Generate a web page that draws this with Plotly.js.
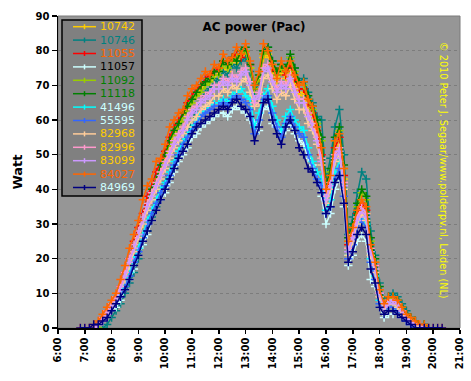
<!DOCTYPE html>
<html><head><meta charset="utf-8">
<script src="https://cdn.plot.ly/plotly-3.0.1.min.js"></script>
<style>html,body{margin:0;padding:0;background:#fff}#chart{width:471px;height:381px}</style>
</head><body><div id="chart"></div>
<script>
// time stamps (every 10 minutes)
const times = [
 "06:50","07:00","07:10","07:20","07:30","07:40","07:50","08:00","08:10","08:20",
 "08:30","08:40","08:50","09:00","09:10","09:20","09:30","09:40","09:50","10:00",
 "10:10","10:20","10:30","10:40","10:50","11:00","11:10","11:20","11:30","11:40",
 "11:50","12:00","12:10","12:20","12:30","12:40","12:50","13:00","13:10","13:20",
 "13:30","13:40","13:50","14:00","14:10","14:20","14:30","14:40","14:50","15:00",
 "15:10","15:20","15:30","15:40","15:50","16:00","16:10","16:20","16:30","16:40",
 "16:50","17:00","17:10","17:20","17:30","17:40","17:50","18:00","18:10","18:20",
 "18:30","18:40","18:50","19:00","19:10","19:20","19:30","19:40","19:50","20:00",
 "20:10","20:20"];

const s10742 = [
 0,0,0,0,1,2,4,6,8,11,
 15,19,23,27,31,35,39,43,46,49,
 53,56,58,61,63,65,67,69,70,71,
 72,74,75,74,77,76,78,79,75,68,
 71,78,79,74,71,74,72,75,71,67,
 68,63,61,56,49,37,42,51,53,43,
 23,27,31,35,33,22,17,10,6,8,
 8,7,5,3,2,1,1,0,0,0,
 0,0];
const s10746 = [
 0,0,0,0,0,0,1,3,5,7,
 10,13,16,20,24,28,32,35,39,42,
 44,46,50,53,56,60,63,66,68,69,
 71,72,74,73,76,75,77,78,74,68,
 71,80,81,77,73,76,74,78,75,71,
 72,68,65,61,60,43,49,58,63,50,
 27,32,39,45,43,28,21,13,8,9,
 10,9,7,5,3,2,1,1,0,0,
 0,0];
const s11055 = [
 0,0,0,0,1,3,5,7,9,12,
 16,20,25,29,33,38,41,45,48,51,
 55,58,60,62,65,67,69,70,72,73,
 74,75,77,76,78,79,78,80,76,69,
 72,79,80,75,73,75,73,76,72,69,
 69,65,62,57,50,39,43,52,55,44,
 24,28,33,36,34,23,18,10,6,8,
 8,7,5,4,2,2,1,0,0,0,
 0,0];
const s11057 = [
 0,0,0,0,1,2,3,5,6,8,
 11,14,17,21,24,27,31,34,37,39,
 42,45,48,50,52,55,56,58,59,60,
 61,62,62,61,63,64,63,62,60,59,
 57,63,64,59,58,56,57,59,56,54,
 53,49,47,43,38,30,33,40,43,35,
 18,21,25,27,25,14,12,6,3,4,
 4,4,3,2,1,0,0,0,0,0,
 0,0];
const s11092 = [
 0,0,0,0,0,2,3,5,7,10,
 14,18,22,26,30,35,38,42,45,48,
 52,55,58,60,63,65,67,68,70,71,
 73,73,76,75,77,78,79,80,75,69,
 72,79,80,76,73,75,74,78,74,70,
 70,66,63,59,54,40,45,54,57,46,
 25,29,35,39,37,25,19,11,7,8,
 9,8,6,4,2,2,1,0,0,0,
 0,0];
const s11118 = [
 0,0,0,0,1,2,4,6,8,11,
 15,19,24,28,32,36,40,43,47,50,
 54,57,59,62,64,66,68,70,71,72,
 74,74,77,76,78,77,80,81,76,70,
 73,80,81,77,74,76,75,79,75,71,
 71,67,64,60,55,41,46,55,58,47,
 26,30,36,40,38,26,20,12,7,9,
 9,8,6,4,3,2,1,1,0,0,
 0,0];
const s41496 = [
 0,0,0,0,1,2,4,6,8,10,
 13,16,20,23,27,31,34,37,40,42,
 45,48,51,54,56,58,60,62,63,64,
 65,65,66,65,67,68,69,67,66,58,
 62,67,69,64,60,57,61,63,60,58,
 57,52,48,45,43,34,37,45,48,40,
 21,25,30,32,30,20,15,8,5,6,
 6,5,4,3,2,1,0,0,0,0,
 0,0];
const s55595 = [
 0,0,0,0,1,2,3,5,7,9,
 12,15,19,22,26,30,33,36,39,41,
 44,47,50,53,55,57,59,61,62,63,
 64,64,65,64,66,67,66,65,63,56,
 60,66,67,62,58,55,59,61,58,56,
 55,50,46,43,41,33,35,43,46,38,
 20,24,29,31,29,19,14,7,5,6,
 6,5,4,2,1,1,0,0,0,0,
 0,0];
const s82968 = [
 0,0,0,0,1,2,4,6,8,11,
 14,18,22,26,30,34,37,40,43,46,
 49,52,54,56,58,60,61,63,64,65,
 67,67,69,68,70,69,71,72,68,64,
 65,72,73,69,66,68,67,70,66,63,
 63,59,57,53,47,36,40,48,50,40,
 21,25,30,33,31,21,16,9,5,7,
 7,6,4,3,2,1,0,0,0,0,
 0,0];
const s82996 = [
 0,0,0,0,1,3,5,7,9,12,
 16,20,24,28,32,36,39,42,45,48,
 51,54,56,58,61,63,64,66,67,68,
 70,70,72,71,73,72,74,75,71,65,
 68,75,76,72,69,71,70,73,69,66,
 66,62,59,55,49,38,42,50,52,42,
 23,27,32,35,33,23,18,10,6,8,
 8,7,5,3,2,1,1,0,0,0,
 0,0];
const s83099 = [
 0,0,0,0,1,2,4,6,8,11,
 15,19,23,27,31,35,38,41,44,47,
 50,53,55,57,60,62,63,65,66,67,
 69,69,71,70,72,71,73,74,70,66,
 67,74,75,71,68,70,69,72,68,65,
 65,61,58,54,48,37,41,49,51,41,
 22,26,31,34,32,22,17,10,6,7,
 8,7,5,3,2,1,1,0,0,0,
 0,0];
const s84027 = [
 0,0,0,1,2,4,6,8,10,14,
 18,23,27,31,37,41,43,48,49,53,
 58,60,62,63,67,69,70,72,74,73,
 76,75,79,77,78,81,79,82,77,70,
 74,82,80,76,72,77,74,77,73,70,
 71,66,64,58,52,40,44,54,56,46,
 25,29,34,37,35,24,19,11,7,9,
 9,8,6,4,3,2,1,1,0,0,
 0,0];
const s84969 = [
 0,0,0,1,1,2,3,5,7,9,
 11,14,18,21,25,28,31,34,37,40,
 43,46,49,51,53,56,58,59,60,61,
 62,63,64,63,65,66,64,63,61,54,
 58,65,66,60,56,53,58,60,57,52,
 50,46,45,42,39,33,35,42,44,36,
 19,22,27,29,27,17,13,6,4,5,
 5,4,3,2,1,0,0,0,0,0,
 0,0];

const seriesNames = ["10742","10746","11055","11057","11092","11118","41496","55595","82968","82996","83099","84027","84969"];
const seriesValues = [s10742,s10746,s11055,s11057,s11092,s11118,s41496,s55595,s82968,s82996,s83099,s84027,s84969];
const lineColors = ["#FFCC00","#008080","#FF0000","#CCFFFF","#99CC00","#008000","#00FFFF","#3366FF","#FFCC99","#FF99CC","#CC99FF","#FF6600","#000080"];
const textColors = ["#FFCC00","#008080","#FF6600","#000000","#008000","#008000","#CCFFFF","#CCFFFF","#FFCC00","#FFCC00","#FFCC00","#FF6600","#CCFFFF"];
const xTickVals = ["06:00","07:00","08:00","09:00","10:00","11:00","12:00","13:00","14:00","15:00","16:00","17:00","18:00","19:00","20:00","21:00"];
const xTickText = ["6:00","7:00","8:00","9:00","10:00","11:00","12:00","13:00","14:00","15:00","16:00","17:00","18:00","19:00","20:00","21:00"];
const titleText = "AC power (Pac)";
const yTitle = "Watt";
const copyright = "© 2010 Peter J. Segaar/www.polderpv.nl, Leiden (NL)";

const DAY = "2010-06-01 ";
const xs = times.map(t => DAY + t);

const traces = seriesNames.map((n, k) => ({
  type: "scatter", mode: "lines+markers", name: n,
  x: xs, y: seriesValues[k],
  line: {color: lineColors[k], width: 1.5},
  marker: {symbol: "cross-thin", size: 6, line: {color: lineColors[k], width: 1.5}, color: lineColors[k]},
  showlegend: false, hoverinfo: "skip"
}));

// layout geometry (pixels)
const WIDTH = 471, HEIGHT = 381;
const ML = 58, MR = 11, MT = 16, MB = 53;
const PW = WIDTH - ML - MR, PH = HEIGHT - MT - MB;
const px = v => (v - ML) / PW;
const py = v => (MT + PH - v) / PH;

const shapes = [];
const annotations = [];

// plot frame (gray top/right)
shapes.push({type: "rect", xref: "paper", yref: "paper", x0: 0, x1: 1, y0: 0, y1: 1,
  line: {color: "#7a7a7a", width: 1}, layer: "below"});

// manual legend
const LG = {x0: 62, x1: 142, y0: 20, y1: 196, first: 26.7, step: 13.4, lx0: 73, lx1: 96, tx: 98.5};
shapes.push({type: "rect", xref: "paper", yref: "paper", x0: px(LG.x0), x1: px(LG.x1), y0: py(LG.y1), y1: py(LG.y0),
  fillcolor: "#808080", line: {color: "#000000", width: 1.5}, layer: "above"});
seriesNames.forEach((n, k) => {
  const cy = LG.first + k * LG.step;
  const mx = (LG.lx0 + LG.lx1) / 2;
  shapes.push({type: "line", xref: "paper", yref: "paper", x0: px(LG.lx0), x1: px(LG.lx1), y0: py(cy), y1: py(cy),
    line: {color: lineColors[k], width: 1.5}, layer: "above"});
  shapes.push({type: "line", xref: "paper", yref: "paper", x0: px(mx), x1: px(mx), y0: py(cy - 2.5), y1: py(cy + 2.5),
    line: {color: lineColors[k], width: 1.5}, layer: "above"});
  annotations.push({xref: "paper", yref: "paper", x: px(LG.tx), y: py(cy), xanchor: "left", yanchor: "middle",
    text: n, showarrow: false, borderpad: 0,
    font: {family: "DejaVu Sans", size: 11, color: textColors[k]}});
});

// copyright
annotations.push({xref: "paper", yref: "paper", x: px(444), y: py(170), xanchor: "center", yanchor: "middle",
  text: copyright, textangle: 90, showarrow: false,
  font: {family: "DejaVu Sans", size: 9.7, color: "#FFFF00"}});

const layout = {
  width: WIDTH, height: HEIGHT,
  margin: {l: ML, r: MR, t: MT, b: MB, pad: 0},
  paper_bgcolor: "#FFFFFF", plot_bgcolor: "#969696",
  showlegend: false,
  title: {text: titleText, x: 254 / WIDTH, xanchor: "center", y: 1 - 27 / HEIGHT, yanchor: "middle",
    font: {family: "DejaVu Sans", size: 12, weight: "bold", color: "#000000"}},
  xaxis: {type: "date", range: [DAY + "06:00", DAY + "21:00"],
    tickvals: xTickVals.map(t => DAY + t), ticktext: xTickText,
    tickangle: -90, ticks: "outside", ticklen: 4, tickwidth: 1.5, tickcolor: "#000",
    showline: true, linecolor: "#000", linewidth: 1.5, showgrid: false, zeroline: false,
    tickfont: {family: "DejaVu Sans", size: 10, weight: "bold", color: "#000"}, fixedrange: true},
  yaxis: {range: [0, 90], dtick: 10, tick0: 0, ticks: "outside", ticklen: 5, tickwidth: 1.5, tickcolor: "#000",
    showline: true, linecolor: "#000", linewidth: 1.5, showgrid: true, gridcolor: "#7c7c7c", griddash: "3px,3px", gridwidth: 1,
    zeroline: false,
    tickfont: {family: "DejaVu Sans", size: 10, weight: "bold", color: "#000"},
    title: {text: yTitle, standoff: 10, font: {family: "DejaVu Sans", size: 13, weight: "bold", color: "#000"}}, fixedrange: true},
  shapes: shapes, annotations: annotations
};

Plotly.newPlot("chart", traces, layout, {displayModeBar: false, staticPlot: true});
</script></body></html>
